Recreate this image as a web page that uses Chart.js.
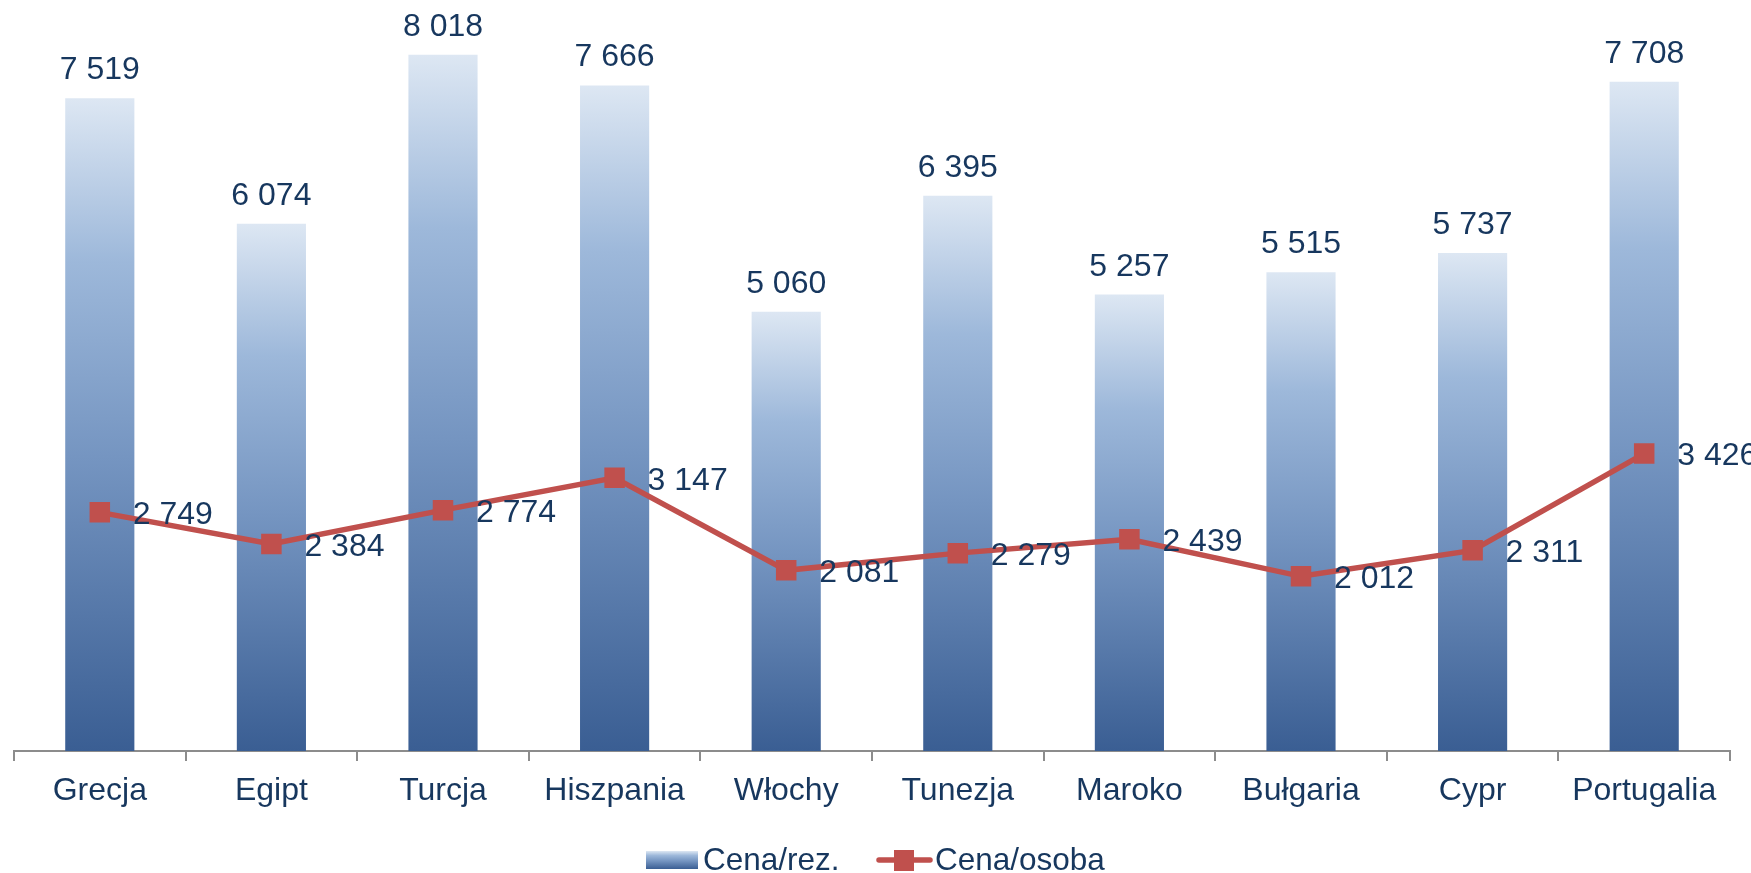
<!DOCTYPE html>
<html>
<head>
<meta charset="utf-8">
<script src="https://cdn.jsdelivr.net/npm/chart.js@4/dist/chart.umd.min.js"></script>
<style>
  html, body { margin: 0; padding: 0; background: #ffffff; }
  #wrap { width: 1751px; height: 873px; position: relative; }
</style>
</head>
<body>
<div id="wrap"><canvas id="c" width="1751" height="873"></canvas></div>
<script>
const categories = ["Grecja", "Egipt", "Turcja", "Hiszpania", "Włochy", "Tunezja", "Maroko", "Bułgaria", "Cypr", "Portugalia"];
const cenaRez = [7519, 6074, 8018, 7666, 5060, 6395, 5257, 5515, 5737, 7708];
const cenaOsoba = [2749, 2384, 2774, 3147, 2081, 2279, 2439, 2012, 2311, 3426];
const seriesNames = ["Cena/rez.", "Cena/osoba"];

const TEXT = "#17375E";
const FONT = "'Liberation Sans', Arial, sans-serif";
const RED = "#C0504D";

function fmt(v) {
  return String(v).replace(/\B(?=(\d{3})+(?!\d))/g, " ");
}

function barGradient(ctx, top, bottom) {
  const g = ctx.createLinearGradient(0, top, 0, bottom);
  g.addColorStop(0, "#DDE7F3");
  g.addColorStop(0.25, "#9DB8DA");
  g.addColorStop(0.55, "#7595C1");
  g.addColorStop(1, "#3A5E93");
  return g;
}

const labelsPlugin = {
  id: "valueLabels",
  afterDatasetsDraw(chart) {
    const ctx = chart.ctx;
    ctx.save();
    ctx.fillStyle = TEXT;
    ctx.font = "32px " + FONT;
    const barMeta = chart.getDatasetMeta(1);
    ctx.textAlign = "center";
    ctx.textBaseline = "alphabetic";
    barMeta.data.forEach((el, i) => {
      ctx.fillText(fmt(cenaRez[i]), el.x, el.y - 19);
    });
    const lineMeta = chart.getDatasetMeta(0);
    ctx.textAlign = "left";
    ctx.textBaseline = "middle";
    lineMeta.data.forEach((el, i) => {
      ctx.fillText(fmt(cenaOsoba[i]), el.x + 33, el.y + 3);
    });
    ctx.restore();
  }
};

const legendPlugin = {
  id: "customLegend",
  afterDraw(chart) {
    const ctx = chart.ctx;
    ctx.save();
    ctx.font = "31.5px " + FONT;
    ctx.textBaseline = "alphabetic";
    ctx.textAlign = "left";
    const bx = 646, by = 851, bw = 52, bh = 18;
    ctx.fillStyle = barGradient(ctx, by, by + bh);
    ctx.fillRect(bx, by, bw, bh);
    ctx.fillStyle = TEXT;
    ctx.fillText(seriesNames[0], 703, 870);
    ctx.strokeStyle = RED;
    ctx.lineWidth = 5.5;
    ctx.lineCap = "round";
    ctx.beginPath();
    ctx.moveTo(879, 860);
    ctx.lineTo(930, 860);
    ctx.stroke();
    ctx.fillStyle = RED;
    ctx.fillRect(894, 850, 20, 21);
    ctx.fillStyle = TEXT;
    ctx.fillText(seriesNames[1], 935, 870);
    ctx.restore();
  }
};

new Chart(document.getElementById("c"), {
  data: {
    labels: categories,
    datasets: [
      {
        type: "line",
        label: seriesNames[1],
        data: cenaOsoba,
        borderColor: RED,
        borderWidth: 5.5,
        backgroundColor: RED,
        pointStyle: "rect",
        pointRadius: 14.5,
        pointHoverRadius: 14.5,
        pointBorderWidth: 0,
        pointBackgroundColor: RED,
        tension: 0,
        order: 0
      },
      {
        type: "bar",
        label: seriesNames[0],
        data: cenaRez,
        barPercentage: 0.403,
        categoryPercentage: 1.0,
        backgroundColor: (c) => {
          const chart = c.chart;
          const ys = chart.scales && chart.scales.y;
          if (!ys || c.dataIndex === undefined) return "#7595C1";
          const v = c.raw !== undefined ? c.raw : cenaRez[c.dataIndex];
          const top = ys.getPixelForValue(v);
          const bottom = ys.getPixelForValue(0);
          if (!isFinite(top) || !isFinite(bottom) || top === bottom) return "#7595C1";
          return barGradient(chart.ctx, top, bottom);
        },
        borderWidth: 0,
        order: 1
      }
    ]
  },
  options: {
    responsive: false,
    animation: false,
    devicePixelRatio: 1,
    layout: { autoPadding: false, padding: { left: 14, right: 21, top: 0, bottom: 0 } },
    plugins: {
      legend: { display: false },
      tooltip: { enabled: false }
    },
    scales: {
      x: {
        grid: {
          display: true,
          drawOnChartArea: false,
          drawTicks: true,
          tickLength: 10,
          color: "#8C8C8C",
          lineWidth: 2,
          offset: true
        },
        border: { display: true, color: "#8C8C8C", width: 2 },
        ticks: {
          color: TEXT,
          font: { size: 32, family: FONT },
          padding: 11,
          maxRotation: 0,
          autoSkip: false
        },
        afterFit(scale) { scale.height = 122; }
      },
      y: {
        display: false,
        min: 0,
        max: 8650
      }
    }
  },
  plugins: [labelsPlugin, legendPlugin]
});
</script>
</body>
</html>
